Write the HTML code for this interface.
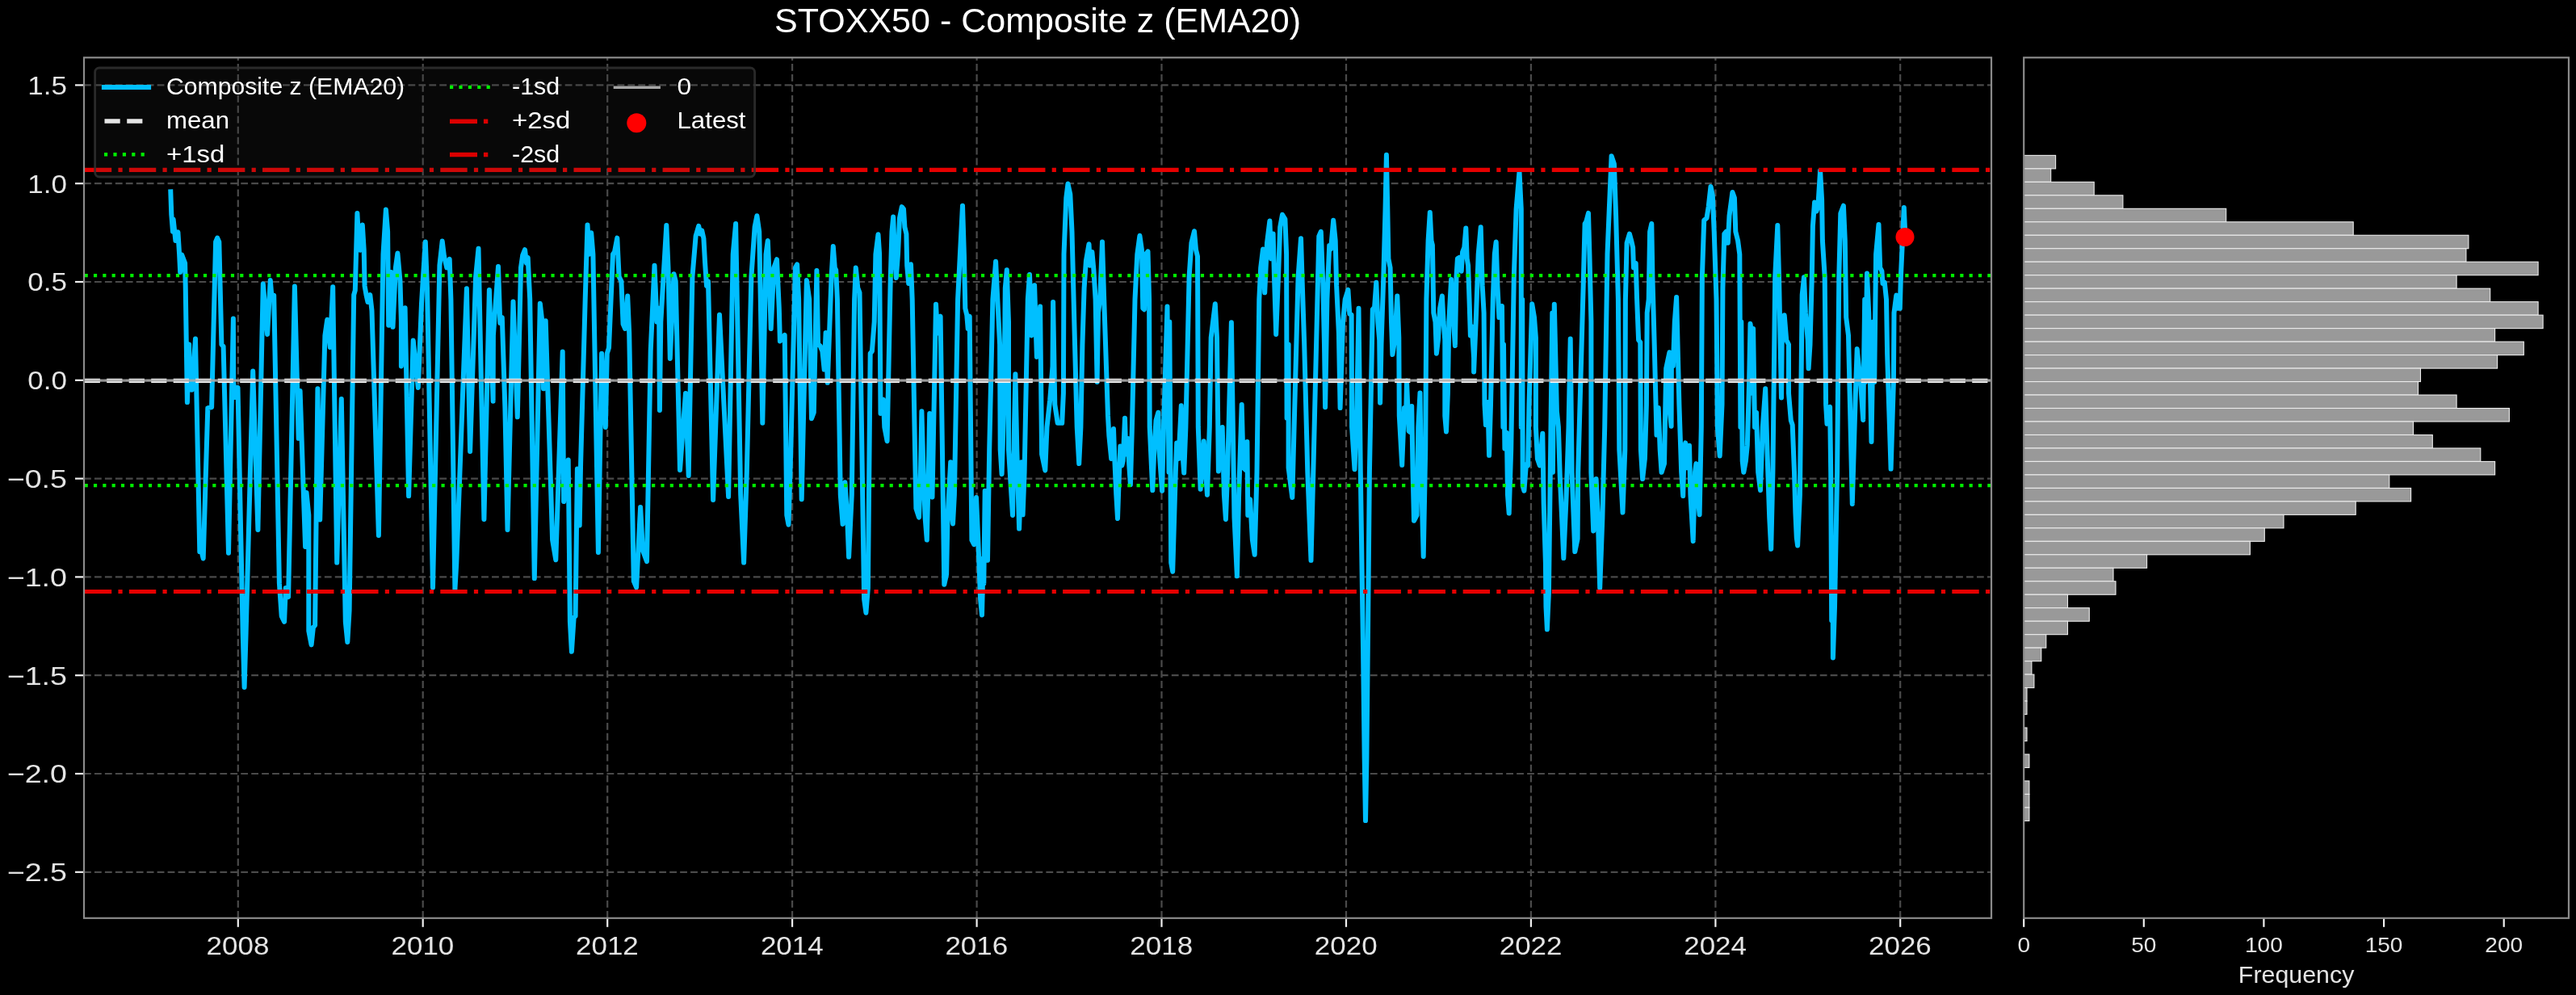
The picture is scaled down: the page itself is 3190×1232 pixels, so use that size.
<!DOCTYPE html><html><head><meta charset="utf-8"><title>STOXX50 - Composite z (EMA20)</title>
<style>html,body{margin:0;padding:0;background:#000;}body{width:3190px;height:1232px;overflow:hidden;font-family:"Liberation Sans",sans-serif;}svg{display:block;will-change:transform;}text{font-family:"Liberation Sans",sans-serif;-webkit-font-smoothing:antialiased;}</style></head><body>
<svg width="3190" height="1232" viewBox="0 0 3190 1232">
<rect x="0" y="0" width="3190" height="1232" fill="#000"/>
<defs><clipPath id="cm"><rect x="104.0" y="71.3" width="2362.0" height="1065.5"/></clipPath>
<clipPath id="ch"><rect x="2506.2" y="71.3" width="674.8" height="1065.5"/></clipPath></defs>
<g clip-path="url(#cm)">
<line x1="294.8" y1="1136.8" x2="294.8" y2="71.3" stroke="#4a4a4a" stroke-width="2.2" stroke-dasharray="8.8 4.15" fill="none"/>
<line x1="523.7" y1="1136.8" x2="523.7" y2="71.3" stroke="#4a4a4a" stroke-width="2.2" stroke-dasharray="8.8 4.15" fill="none"/>
<line x1="752.2" y1="1136.8" x2="752.2" y2="71.3" stroke="#4a4a4a" stroke-width="2.2" stroke-dasharray="8.8 4.15" fill="none"/>
<line x1="981.1" y1="1136.8" x2="981.1" y2="71.3" stroke="#4a4a4a" stroke-width="2.2" stroke-dasharray="8.8 4.15" fill="none"/>
<line x1="1209.6" y1="1136.8" x2="1209.6" y2="71.3" stroke="#4a4a4a" stroke-width="2.2" stroke-dasharray="8.8 4.15" fill="none"/>
<line x1="1438.5" y1="1136.8" x2="1438.5" y2="71.3" stroke="#4a4a4a" stroke-width="2.2" stroke-dasharray="8.8 4.15" fill="none"/>
<line x1="1667.0" y1="1136.8" x2="1667.0" y2="71.3" stroke="#4a4a4a" stroke-width="2.2" stroke-dasharray="8.8 4.15" fill="none"/>
<line x1="1895.9" y1="1136.8" x2="1895.9" y2="71.3" stroke="#4a4a4a" stroke-width="2.2" stroke-dasharray="8.8 4.15" fill="none"/>
<line x1="2124.4" y1="1136.8" x2="2124.4" y2="71.3" stroke="#4a4a4a" stroke-width="2.2" stroke-dasharray="8.8 4.15" fill="none"/>
<line x1="2353.2" y1="1136.8" x2="2353.2" y2="71.3" stroke="#4a4a4a" stroke-width="2.2" stroke-dasharray="8.8 4.15" fill="none"/>
<line x1="104.0" y1="105.4" x2="2466.0" y2="105.4" stroke="#4a4a4a" stroke-width="2.2" stroke-dasharray="8.8 4.15" fill="none"/>
<line x1="104.0" y1="227.2" x2="2466.0" y2="227.2" stroke="#4a4a4a" stroke-width="2.2" stroke-dasharray="8.8 4.15" fill="none"/>
<line x1="104.0" y1="349.0" x2="2466.0" y2="349.0" stroke="#4a4a4a" stroke-width="2.2" stroke-dasharray="8.8 4.15" fill="none"/>
<line x1="104.0" y1="470.8" x2="2466.0" y2="470.8" stroke="#4a4a4a" stroke-width="2.2" stroke-dasharray="8.8 4.15" fill="none"/>
<line x1="104.0" y1="592.6" x2="2466.0" y2="592.6" stroke="#4a4a4a" stroke-width="2.2" stroke-dasharray="8.8 4.15" fill="none"/>
<line x1="104.0" y1="714.4" x2="2466.0" y2="714.4" stroke="#4a4a4a" stroke-width="2.2" stroke-dasharray="8.8 4.15" fill="none"/>
<line x1="104.0" y1="836.2" x2="2466.0" y2="836.2" stroke="#4a4a4a" stroke-width="2.2" stroke-dasharray="8.8 4.15" fill="none"/>
<line x1="104.0" y1="958.0" x2="2466.0" y2="958.0" stroke="#4a4a4a" stroke-width="2.2" stroke-dasharray="8.8 4.15" fill="none"/>
<line x1="104.0" y1="1079.8" x2="2466.0" y2="1079.8" stroke="#4a4a4a" stroke-width="2.2" stroke-dasharray="8.8 4.15" fill="none"/>
<path d="M211.2 234.3 L212.3 265.8 L214.0 286.8 L214.6 271.4 L217.4 298.0 L220.4 287.4 L222.1 314.8 L223.2 337.1 L225.2 315.6 L229.1 325.9 L229.7 353.9 L231.9 498.1 L234.1 426.6 L235.0 480.8 L236.9 444.7 L237.5 482.7 L242.0 419.6 L247.3 683.1 L249.2 681.2 L251.7 691.5 L257.3 505.1 L262.1 504.3 L267.1 299.4 L269.1 294.6 L271.3 299.4 L274.4 426.6 L276.6 428.8 L283.0 684.8 L288.9 394.4 L289.2 474.3 L291.7 492.0 L294.5 479.9 L300.7 783.9 L302.6 850.9 L304.6 783.9 L313.2 459.5 L319.4 656.0 L325.8 351.6 L331.1 414.0 L334.8 346.9 L336.7 370.7 L339.2 365.6 L345.9 722.4 L348.7 762.9 L352.1 769.9 L353.8 728.0 L357.1 739.1 L364.9 354.4 L369.7 542.8 L371.6 484.1 L378.1 677.0 L379.5 609.9 L382.3 637.9 L382.3 781.1 L385.6 798.4 L387.9 776.9 L390.1 774.1 L393.4 481.3 L396.2 643.4 L402.4 415.4 L405.2 395.8 L408.8 429.9 L412.2 355.3 L417.2 696.6 L422.8 493.9 L427.8 769.9 L430.3 795.0 L432.6 755.9 L438.2 365.1 L439.8 359.5 L442.4 263.9 L444.6 306.4 L446.0 309.7 L448.8 278.4 L450.7 309.2 L451.6 353.9 L453.5 365.1 L455.5 374.0 L458.3 365.1 L460.5 384.6 L468.9 663.0 L474.5 314.8 L477.9 259.4 L480.1 286.8 L481.2 402.8 L484.3 337.1 L486.5 404.8 L489.9 331.5 L492.4 313.4 L495.5 348.3 L496.9 398.6 L496.9 453.4 L501.6 381.3 L506.1 614.1 L511.7 421.5 L517.8 479.9 L522.0 376.2 L524.0 342.7 L526.8 299.4 L529.0 356.7 L536.0 727.4 L544.4 328.7 L547.7 298.5 L550.0 317.5 L553.3 331.5 L556.7 320.9 L558.4 370.7 L563.4 730.2 L565.3 696.6 L577.9 357.2 L582.1 559.0 L589.1 342.7 L592.5 307.8 L599.4 642.9 L605.9 358.9 L610.6 496.7 L610.9 415.4 L617.0 330.1 L619.3 400.0 L621.8 393.0 L625.4 505.1 L628.5 656.0 L635.5 373.4 L640.8 516.3 L645.0 331.5 L647.2 316.1 L650.0 309.2 L652.0 325.9 L653.7 318.9 L656.2 370.7 L661.8 716.1 L668.8 375.7 L672.4 407.0 L673.0 481.3 L675.7 397.2 L684.1 668.6 L688.3 693.2 L696.7 435.5 L698.1 621.1 L703.7 569.4 L705.9 769.9 L707.9 806.8 L710.7 764.3 L712.6 762.9 L714.9 580.6 L717.7 650.4 L719.1 573.6 L724.7 370.7 L727.5 278.4 L729.7 314.8 L732.2 288.2 L734.4 314.8 L740.9 684.0 L745.1 437.7 L749.8 528.9 L751.8 437.7 L754.0 430.7 L759.0 314.8 L761.0 312.0 L764.3 294.6 L766.6 342.7 L769.4 348.3 L771.6 401.4 L774.1 407.0 L777.2 366.5 L779.2 412.6 L784.8 719.6 L788.1 727.4 L793.1 628.1 L795.9 681.2 L801.0 695.2 L805.7 434.9 L810.5 328.7 L813.5 398.6 L816.1 381.8 L816.9 507.9 L818.3 398.6 L825.3 279.0 L827.5 331.5 L829.8 443.9 L834.5 339.3 L836.7 348.3 L842.0 582.0 L849.0 486.9 L852.7 588.9 L857.4 342.7 L861.6 292.4 L865.2 279.8 L867.2 289.6 L869.2 285.4 L871.4 295.2 L873.1 325.9 L875.0 353.9 L877.0 348.3 L883.1 618.9 L891.0 389.7 L902.1 614.9 L907.7 314.8 L911.1 277.0 L917.2 612.7 L921.1 696.6 L924.8 584.8 L930.4 342.7 L934.6 281.2 L937.4 267.2 L940.2 286.8 L941.8 370.7 L944.3 523.8 L948.5 314.8 L950.8 298.0 L952.7 342.7 L954.7 407.0 L958.3 331.5 L962.0 321.2 L964.8 381.8 L965.9 422.4 L971.7 414.8 L974.3 637.9 L976.5 649.6 L979.3 556.8 L984.9 331.5 L987.1 327.3 L989.1 370.7 L992.7 618.3 L998.9 346.9 L1002.2 370.7 L1005.0 518.2 L1007.8 510.7 L1011.4 334.9 L1013.1 426.6 L1015.6 428.0 L1018.4 434.9 L1020.7 457.6 L1022.6 412.0 L1024.8 473.8 L1029.6 342.7 L1031.8 305.0 L1033.8 331.5 L1035.2 334.3 L1036.9 370.7 L1040.8 612.7 L1043.6 649.0 L1046.4 597.3 L1049.2 640.7 L1051.1 689.6 L1054.8 612.7 L1058.1 370.7 L1059.8 331.5 L1062.3 356.7 L1064.5 362.3 L1070.1 741.9 L1072.4 758.7 L1074.9 728.0 L1077.7 437.7 L1079.9 434.9 L1082.7 398.6 L1084.4 314.8 L1087.5 290.2 L1089.1 314.8 L1090.5 512.1 L1093.9 494.8 L1095.3 528.9 L1098.6 546.2 L1102.8 342.7 L1104.5 286.8 L1106.2 268.6 L1107.9 314.8 L1109.8 344.1 L1112.0 314.8 L1114.0 270.0 L1116.8 256.1 L1119.0 258.9 L1120.4 281.2 L1122.4 289.6 L1123.2 328.7 L1125.2 351.1 L1128.0 327.3 L1129.7 370.7 L1133.0 556.8 L1134.4 629.5 L1138.0 640.7 L1140.0 584.8 L1141.4 509.3 L1143.6 584.8 L1145.6 640.7 L1147.8 668.6 L1149.8 584.8 L1151.2 512.1 L1152.6 584.8 L1154.5 615.5 L1159.0 376.8 L1161.0 412.6 L1164.6 391.6 L1169.3 723.8 L1172.1 711.2 L1173.5 640.7 L1177.2 572.2 L1179.1 640.7 L1180.0 648.5 L1181.9 612.7 L1186.1 370.7 L1188.9 314.8 L1192.0 254.7 L1193.9 314.8 L1195.3 381.8 L1197.3 390.2 L1198.7 407.0 L1200.7 391.6 L1203.4 668.6 L1206.2 674.2 L1209.0 616.1 L1211.3 668.6 L1214.1 741.9 L1216.0 761.5 L1217.7 691.0 L1218.3 722.4 L1219.7 607.7 L1223.0 693.8 L1225.2 556.8 L1229.4 370.7 L1233.1 323.7 L1235.3 370.7 L1238.1 426.6 L1238.7 556.8 L1240.6 587.0 L1243.4 500.9 L1244.8 356.7 L1246.8 334.3 L1249.0 398.6 L1249.0 556.8 L1254.0 637.9 L1256.0 528.9 L1257.4 463.2 L1259.3 556.8 L1262.1 654.6 L1264.9 572.2 L1266.6 637.3 L1268.6 584.8 L1272.8 370.7 L1275.0 339.9 L1277.5 415.4 L1281.1 353.3 L1283.9 441.9 L1288.1 379.6 L1290.1 562.4 L1294.3 582.5 L1296.5 528.9 L1300.2 495.3 L1303.5 453.4 L1304.1 374.0 L1306.3 500.9 L1309.7 523.8 L1315.2 523.8 L1316.9 486.9 L1317.5 314.8 L1320.3 244.9 L1322.5 227.5 L1325.3 240.7 L1327.5 286.8 L1330.3 398.6 L1333.7 528.9 L1336.2 574.1 L1338.4 528.9 L1340.4 426.6 L1342.6 356.7 L1344.9 323.1 L1348.5 302.2 L1349.9 328.7 L1352.4 312.0 L1354.4 334.3 L1356.6 370.7 L1358.6 473.0 L1360.0 387.4 L1362.2 370.7 L1365.0 299.4 L1367.2 370.7 L1372.0 514.9 L1373.4 540.0 L1376.2 568.0 L1379.0 531.1 L1380.4 570.8 L1382.3 612.7 L1384.0 642.0 L1386.0 584.8 L1387.4 552.6 L1389.3 576.4 L1390.7 570.8 L1393.0 517.7 L1394.3 562.4 L1396.3 542.8 L1398.5 579.2 L1399.9 600.1 L1401.9 528.9 L1405.5 370.7 L1408.3 314.8 L1411.4 291.8 L1413.9 309.2 L1415.3 381.8 L1417.0 383.2 L1418.7 314.8 L1421.5 311.4 L1423.1 370.7 L1423.7 528.9 L1427.3 607.1 L1429.3 556.8 L1431.5 520.5 L1434.3 510.7 L1435.4 556.8 L1439.1 607.7 L1441.0 528.9 L1445.5 379.6 L1447.5 584.8 L1448.3 398.6 L1450.2 696.6 L1452.2 707.7 L1455.8 584.8 L1457.2 548.4 L1459.5 568.0 L1462.8 502.3 L1465.1 570.8 L1466.2 585.6 L1468.4 528.9 L1472.6 342.7 L1475.4 300.8 L1479.0 286.2 L1481.0 309.2 L1483.0 317.5 L1483.8 528.9 L1486.6 605.7 L1490.8 546.2 L1493.0 584.8 L1495.0 612.7 L1497.8 528.9 L1499.7 418.2 L1504.8 376.2 L1507.0 418.2 L1508.9 583.4 L1513.7 528.9 L1515.9 612.7 L1517.9 642.9 L1520.1 584.8 L1524.9 399.2 L1528.5 640.7 L1531.9 713.3 L1534.1 612.7 L1537.7 500.9 L1539.7 579.2 L1542.5 582.0 L1544.4 547.0 L1545.3 637.9 L1548.1 618.3 L1550.9 668.6 L1553.7 686.8 L1556.5 584.8 L1559.3 370.7 L1561.2 331.5 L1564.0 308.6 L1566.2 362.3 L1569.0 300.8 L1572.4 273.4 L1574.1 320.3 L1576.6 289.6 L1578.0 342.7 L1580.2 414.0 L1583.0 342.7 L1585.2 281.2 L1588.0 265.8 L1591.4 271.4 L1593.1 314.8 L1593.6 517.7 L1595.6 426.6 L1595.6 579.2 L1600.3 616.1 L1602.6 528.9 L1607.6 342.7 L1611.0 295.2 L1612.9 356.7 L1615.2 426.6 L1619.3 584.8 L1623.5 693.8 L1626.3 584.8 L1633.3 292.4 L1635.8 286.8 L1638.4 353.9 L1640.0 426.6 L1641.1 504.3 L1643.4 370.7 L1646.2 304.1 L1648.1 308.6 L1651.2 272.8 L1653.7 298.0 L1655.1 353.9 L1657.9 412.6 L1659.6 505.1 L1663.0 398.6 L1665.7 370.7 L1669.4 358.9 L1671.3 388.8 L1673.6 389.7 L1674.1 528.9 L1677.5 581.1 L1680.3 500.9 L1682.5 381.8 L1684.8 584.8 L1688.0 802.5 L1689.7 939.2 L1691.0 1016.1 L1692.4 939.2 L1693.8 802.5 L1695.9 584.8 L1699.8 383.2 L1702.1 380.4 L1704.3 349.7 L1706.3 398.6 L1708.2 421.0 L1709.1 498.7 L1710.5 426.6 L1713.3 342.7 L1715.5 258.9 L1716.9 191.8 L1718.3 258.9 L1719.4 320.3 L1721.6 331.5 L1723.0 398.6 L1724.4 439.1 L1727.2 421.0 L1730.3 366.5 L1732.3 418.2 L1732.8 514.9 L1736.2 575.8 L1739.0 505.1 L1741.2 514.9 L1742.0 471.6 L1744.6 533.9 L1746.2 535.0 L1748.2 502.9 L1749.6 584.8 L1751.0 644.8 L1754.6 637.9 L1756.3 528.9 L1758.5 486.4 L1759.9 584.8 L1762.7 689.0 L1765.2 556.8 L1766.4 370.7 L1768.6 298.0 L1770.8 263.0 L1772.5 298.0 L1773.9 303.6 L1775.3 387.4 L1777.5 398.6 L1778.9 437.7 L1780.9 421.0 L1783.1 381.8 L1785.9 366.5 L1787.6 398.6 L1789.3 421.0 L1789.3 514.9 L1791.0 534.4 L1792.9 486.9 L1794.3 398.6 L1797.1 346.1 L1799.9 398.6 L1801.9 428.0 L1803.5 342.7 L1804.9 320.3 L1806.9 318.9 L1809.7 335.7 L1811.1 312.0 L1813.3 306.4 L1815.3 282.6 L1816.7 320.3 L1818.1 328.7 L1819.5 370.7 L1820.9 415.4 L1822.8 404.2 L1825.1 443.3 L1825.1 460.4 L1827.9 393.0 L1830.7 314.8 L1833.7 281.2 L1835.7 353.9 L1837.6 387.4 L1838.5 500.9 L1839.9 526.1 L1842.4 498.1 L1844.1 563.8 L1846.0 500.9 L1848.8 370.7 L1850.8 314.8 L1852.7 299.4 L1854.4 353.9 L1856.4 393.0 L1860.0 379.0 L1861.4 528.9 L1862.0 426.6 L1863.4 555.4 L1865.9 535.8 L1867.0 612.7 L1868.7 635.6 L1871.2 556.8 L1874.8 342.7 L1877.6 258.9 L1881.5 212.7 L1883.8 258.9 L1883.8 528.9 L1885.2 370.7 L1885.7 601.5 L1887.4 607.7 L1889.9 575.0 L1892.1 576.4 L1893.5 500.9 L1897.2 376.2 L1900.0 393.0 L1901.9 418.2 L1901.9 528.9 L1903.9 568.0 L1906.7 576.4 L1910.3 536.7 L1911.7 623.9 L1913.9 696.6 L1914.5 751.3 L1915.9 779.3 L1917.9 734.2 L1922.3 387.4 L1922.9 584.8 L1924.8 376.8 L1927.9 509.3 L1929.9 528.9 L1931.8 590.3 L1934.1 640.7 L1936.3 691.0 L1939.7 612.7 L1942.5 528.9 L1944.7 419.6 L1946.6 584.8 L1950.3 683.1 L1953.6 667.2 L1954.2 584.8 L1960.6 356.7 L1962.6 277.0 L1964.3 274.2 L1967.0 263.9 L1968.4 314.8 L1970.4 398.6 L1970.4 584.8 L1973.2 657.4 L1976.6 593.1 L1978.8 640.7 L1981.2 728.0 L1984.4 640.7 L1987.2 528.9 L1990.5 314.8 L1992.8 258.9 L1995.6 193.2 L1998.9 203.0 L2001.1 267.2 L2003.9 370.7 L2005.3 556.8 L2009.5 634.5 L2012.3 556.8 L2012.9 370.7 L2014.6 300.8 L2017.9 289.6 L2020.2 298.0 L2022.1 306.4 L2023.0 331.5 L2025.7 325.9 L2027.1 370.7 L2029.1 421.0 L2031.3 423.8 L2031.9 556.8 L2034.1 593.1 L2036.9 568.0 L2038.9 500.9 L2039.7 387.4 L2041.7 370.7 L2043.1 286.8 L2045.3 277.0 L2046.4 342.7 L2048.7 426.6 L2051.5 538.6 L2053.7 505.1 L2055.7 556.8 L2057.6 584.8 L2061.0 574.1 L2063.2 456.2 L2067.4 436.3 L2067.4 505.1 L2069.6 527.7 L2069.9 444.7 L2071.9 453.4 L2073.8 398.6 L2076.1 367.9 L2079.4 500.9 L2082.2 584.8 L2084.2 614.1 L2085.6 556.8 L2087.2 548.4 L2089.2 579.2 L2092.0 551.8 L2093.4 612.7 L2096.7 670.0 L2099.0 584.8 L2100.4 574.1 L2102.3 612.7 L2104.6 637.3 L2106.8 528.9 L2107.9 342.7 L2110.2 272.8 L2113.5 270.0 L2115.7 256.1 L2118.5 230.9 L2120.8 242.1 L2122.7 286.8 L2125.5 370.7 L2126.9 528.9 L2129.7 564.6 L2132.5 500.9 L2133.4 356.7 L2135.3 289.6 L2137.5 286.8 L2139.8 300.8 L2141.5 267.2 L2145.4 237.9 L2147.9 244.9 L2149.3 286.8 L2152.1 298.0 L2154.3 314.8 L2155.4 528.9 L2156.3 398.6 L2157.7 570.8 L2159.3 584.8 L2161.9 570.8 L2163.8 551.2 L2166.1 473.0 L2167.5 400.8 L2169.4 415.4 L2170.2 486.9 L2171.1 407.0 L2173.0 528.9 L2175.0 510.7 L2177.2 584.8 L2180.0 607.1 L2182.8 528.9 L2186.2 481.3 L2188.4 556.8 L2191.2 640.7 L2193.2 679.8 L2195.4 584.8 L2198.2 342.7 L2201.3 279.0 L2203.0 342.7 L2206.0 492.5 L2206.6 426.6 L2209.7 390.2 L2212.2 421.0 L2215.0 426.6 L2215.0 486.9 L2217.8 520.5 L2219.7 526.1 L2222.0 584.8 L2223.4 635.1 L2224.8 665.8 L2226.1 675.6 L2228.9 612.7 L2231.7 365.1 L2234.0 343.3 L2235.9 387.4 L2238.7 421.0 L2239.6 456.2 L2241.5 426.6 L2243.8 342.7 L2244.9 279.8 L2247.1 250.5 L2249.3 261.6 L2251.3 256.1 L2254.1 211.3 L2256.1 247.7 L2256.9 298.0 L2259.7 342.7 L2261.1 500.9 L2262.5 524.7 L2266.1 503.7 L2267.2 584.8 L2268.2 768.3 L2269.5 696.6 L2269.9 814.5 L2272.0 751.3 L2275.1 584.8 L2277.3 342.7 L2279.3 264.4 L2282.9 254.7 L2284.8 298.0 L2286.2 393.0 L2289.0 415.4 L2293.8 623.9 L2297.4 500.9 L2299.7 432.1 L2304.4 478.5 L2307.2 519.9 L2309.2 370.7 L2310.0 473.0 L2312.0 338.5 L2314.2 387.4 L2317.5 547.0 L2319.8 398.6 L2321.2 473.0 L2323.1 314.8 L2326.5 277.9 L2328.2 331.5 L2330.4 335.7 L2331.5 351.1 L2333.8 349.7 L2336.0 370.7 L2337.1 437.7 L2341.6 580.6 L2344.9 473.0 L2345.5 387.4 L2348.3 365.6 L2350.5 381.8 L2352.8 381.8 L2353.9 342.7 L2356.3 290.0 L2357.8 257.0 L2359.4 293.2" fill="none" stroke="#00bfff" stroke-width="6.0" stroke-linejoin="round" stroke-linecap="butt"/>
<line x1="104.7" y1="471.4" x2="2466.0" y2="471.4" stroke="#ffffff" stroke-width="5.2" stroke-dasharray="19.2 8.3"/>
<line x1="104.6" y1="341.2" x2="2466.0" y2="341.2" stroke="#00ee00" stroke-width="4.2" stroke-dasharray="4.2 7.13"/>
<line x1="104.6" y1="601.2" x2="2466.0" y2="601.2" stroke="#00ee00" stroke-width="4.2" stroke-dasharray="4.2 7.13"/>
<line x1="104.8" y1="210.4" x2="2466.0" y2="210.4" stroke="#e60000" stroke-width="5.2" stroke-dasharray="33.4 8.23 5.2 8.23"/>
<line x1="104.8" y1="732.5" x2="2466.0" y2="732.5" stroke="#e60000" stroke-width="5.2" stroke-dasharray="33.4 8.23 5.2 8.23"/>
<line x1="104.0" y1="471.2" x2="2466.0" y2="471.2" stroke="#a8a8a8" stroke-opacity="0.85" stroke-width="3.3"/>
<circle cx="2359" cy="293.5" r="11.5" fill="#ff0000"/>
<rect x="117.6" y="84.0" width="817.0" height="135.0" rx="5.5" ry="5.5" fill="#3c3c3c" fill-opacity="0.14" stroke="#303030" stroke-opacity="0.85" stroke-width="2.8"/>
<line x1="125.9" y1="107.9" x2="187.1" y2="107.9" stroke="#00bfff" stroke-width="6.0"/>
<line x1="129.5" y1="150.0" x2="176.4" y2="150.0" stroke="#e6e6e6" stroke-width="5.4" stroke-dasharray="19.2 8.5"/>
<line x1="129.0" y1="191.2" x2="178.8" y2="191.2" stroke="#00f000" stroke-width="4.4" stroke-dasharray="4.2 7.2"/>
<text x="206.0" y="117.0" font-size="29.00" fill="#fff" text-anchor="start" textLength="295.0" lengthAdjust="spacingAndGlyphs" >Composite z (EMA20)</text>
<text x="206.0" y="158.7" font-size="29.00" fill="#fff" text-anchor="start" textLength="78.0" lengthAdjust="spacingAndGlyphs" >mean</text>
<text x="206.0" y="200.6" font-size="29.00" fill="#fff" text-anchor="start" textLength="72.3" lengthAdjust="spacingAndGlyphs" >+1sd</text>
<line x1="557.0" y1="107.9" x2="606.9" y2="107.9" stroke="#00f000" stroke-width="4.4" stroke-dasharray="4.2 7.2"/>
<line x1="557.0" y1="150.3" x2="612" y2="150.3" stroke="#dc0000" stroke-width="5.4" stroke-dasharray="34 7.9 5.4 20"/>
<line x1="557.0" y1="191.5" x2="612" y2="191.5" stroke="#dc0000" stroke-width="5.4" stroke-dasharray="34 7.9 5.4 20"/>
<text x="634.0" y="117.0" font-size="29.00" fill="#fff" text-anchor="start" textLength="59.2" lengthAdjust="spacingAndGlyphs" >-1sd</text>
<text x="634.0" y="158.7" font-size="29.00" fill="#fff" text-anchor="start" textLength="72.3" lengthAdjust="spacingAndGlyphs" >+2sd</text>
<text x="634.0" y="200.6" font-size="29.00" fill="#fff" text-anchor="start" textLength="59.2" lengthAdjust="spacingAndGlyphs" >-2sd</text>
<line x1="759.7" y1="108.3" x2="817.9" y2="108.3" stroke="#a6a6a6" stroke-width="3.5"/>
<circle cx="788.3" cy="152.3" r="12" fill="#ff0000"/>
<text x="838.5" y="117.0" font-size="29.00" fill="#fff" text-anchor="start" textLength="17.6" lengthAdjust="spacingAndGlyphs" >0</text>
<text x="838.5" y="158.7" font-size="29.00" fill="#fff" text-anchor="start" textLength="85.0" lengthAdjust="spacingAndGlyphs" >Latest</text>
</g>
<rect x="104.0" y="71.3" width="2362.0" height="1065.5" fill="none" stroke="#8a8a8a" stroke-width="2.2"/>
<line x1="294.8" y1="1137.8" x2="294.8" y2="1147.8" stroke="#f0f0f0" stroke-width="2.2"/>
<text x="294.5" y="1182.0" font-size="31.40" fill="#e4e4e4" text-anchor="middle" textLength="77.8" lengthAdjust="spacingAndGlyphs" >2008</text>
<line x1="523.7" y1="1137.8" x2="523.7" y2="1147.8" stroke="#f0f0f0" stroke-width="2.2"/>
<text x="523.4" y="1182.0" font-size="31.40" fill="#e4e4e4" text-anchor="middle" textLength="77.8" lengthAdjust="spacingAndGlyphs" >2010</text>
<line x1="752.2" y1="1137.8" x2="752.2" y2="1147.8" stroke="#f0f0f0" stroke-width="2.2"/>
<text x="751.9" y="1182.0" font-size="31.40" fill="#e4e4e4" text-anchor="middle" textLength="77.8" lengthAdjust="spacingAndGlyphs" >2012</text>
<line x1="981.1" y1="1137.8" x2="981.1" y2="1147.8" stroke="#f0f0f0" stroke-width="2.2"/>
<text x="980.8" y="1182.0" font-size="31.40" fill="#e4e4e4" text-anchor="middle" textLength="77.8" lengthAdjust="spacingAndGlyphs" >2014</text>
<line x1="1209.6" y1="1137.8" x2="1209.6" y2="1147.8" stroke="#f0f0f0" stroke-width="2.2"/>
<text x="1209.3" y="1182.0" font-size="31.40" fill="#e4e4e4" text-anchor="middle" textLength="77.8" lengthAdjust="spacingAndGlyphs" >2016</text>
<line x1="1438.5" y1="1137.8" x2="1438.5" y2="1147.8" stroke="#f0f0f0" stroke-width="2.2"/>
<text x="1438.2" y="1182.0" font-size="31.40" fill="#e4e4e4" text-anchor="middle" textLength="77.8" lengthAdjust="spacingAndGlyphs" >2018</text>
<line x1="1667.0" y1="1137.8" x2="1667.0" y2="1147.8" stroke="#f0f0f0" stroke-width="2.2"/>
<text x="1666.7" y="1182.0" font-size="31.40" fill="#e4e4e4" text-anchor="middle" textLength="77.8" lengthAdjust="spacingAndGlyphs" >2020</text>
<line x1="1895.9" y1="1137.8" x2="1895.9" y2="1147.8" stroke="#f0f0f0" stroke-width="2.2"/>
<text x="1895.6" y="1182.0" font-size="31.40" fill="#e4e4e4" text-anchor="middle" textLength="77.8" lengthAdjust="spacingAndGlyphs" >2022</text>
<line x1="2124.4" y1="1137.8" x2="2124.4" y2="1147.8" stroke="#f0f0f0" stroke-width="2.2"/>
<text x="2124.1" y="1182.0" font-size="31.40" fill="#e4e4e4" text-anchor="middle" textLength="77.8" lengthAdjust="spacingAndGlyphs" >2024</text>
<line x1="2353.2" y1="1137.8" x2="2353.2" y2="1147.8" stroke="#f0f0f0" stroke-width="2.2"/>
<text x="2352.9" y="1182.0" font-size="31.40" fill="#e4e4e4" text-anchor="middle" textLength="77.8" lengthAdjust="spacingAndGlyphs" >2026</text>
<line x1="93.0" y1="105.4" x2="103.0" y2="105.4" stroke="#f0f0f0" stroke-width="2.2"/>
<text x="82.9" y="116.7" font-size="31.40" fill="#e4e4e4" text-anchor="end" textLength="48.6" lengthAdjust="spacingAndGlyphs" >1.5</text>
<line x1="93.0" y1="227.2" x2="103.0" y2="227.2" stroke="#f0f0f0" stroke-width="2.2"/>
<text x="82.9" y="238.5" font-size="31.40" fill="#e4e4e4" text-anchor="end" textLength="48.6" lengthAdjust="spacingAndGlyphs" >1.0</text>
<line x1="93.0" y1="349.0" x2="103.0" y2="349.0" stroke="#f0f0f0" stroke-width="2.2"/>
<text x="82.9" y="360.3" font-size="31.40" fill="#e4e4e4" text-anchor="end" textLength="48.6" lengthAdjust="spacingAndGlyphs" >0.5</text>
<line x1="93.0" y1="470.8" x2="103.0" y2="470.8" stroke="#f0f0f0" stroke-width="2.2"/>
<text x="82.9" y="482.1" font-size="31.40" fill="#e4e4e4" text-anchor="end" textLength="48.6" lengthAdjust="spacingAndGlyphs" >0.0</text>
<line x1="93.0" y1="592.6" x2="103.0" y2="592.6" stroke="#f0f0f0" stroke-width="2.2"/>
<text x="82.9" y="603.9" font-size="31.40" fill="#e4e4e4" text-anchor="end" textLength="74.2" lengthAdjust="spacingAndGlyphs" >−0.5</text>
<line x1="93.0" y1="714.4" x2="103.0" y2="714.4" stroke="#f0f0f0" stroke-width="2.2"/>
<text x="82.9" y="725.7" font-size="31.40" fill="#e4e4e4" text-anchor="end" textLength="74.2" lengthAdjust="spacingAndGlyphs" >−1.0</text>
<line x1="93.0" y1="836.2" x2="103.0" y2="836.2" stroke="#f0f0f0" stroke-width="2.2"/>
<text x="82.9" y="847.5" font-size="31.40" fill="#e4e4e4" text-anchor="end" textLength="74.2" lengthAdjust="spacingAndGlyphs" >−1.5</text>
<line x1="93.0" y1="958.0" x2="103.0" y2="958.0" stroke="#f0f0f0" stroke-width="2.2"/>
<text x="82.9" y="969.3" font-size="31.40" fill="#e4e4e4" text-anchor="end" textLength="74.2" lengthAdjust="spacingAndGlyphs" >−2.0</text>
<line x1="93.0" y1="1079.8" x2="103.0" y2="1079.8" stroke="#f0f0f0" stroke-width="2.2"/>
<text x="82.9" y="1091.1" font-size="31.40" fill="#e4e4e4" text-anchor="end" textLength="74.2" lengthAdjust="spacingAndGlyphs" >−2.5</text>
<g clip-path="url(#ch)">
<rect x="2506.2" y="192.40" width="39.4" height="16.48" fill="#999999" stroke="#ececec" stroke-width="1.1"/>
<rect x="2506.2" y="208.88" width="33.5" height="16.48" fill="#999999" stroke="#ececec" stroke-width="1.1"/>
<rect x="2506.2" y="225.36" width="87.0" height="16.48" fill="#999999" stroke="#ececec" stroke-width="1.1"/>
<rect x="2506.2" y="241.84" width="122.7" height="16.48" fill="#999999" stroke="#ececec" stroke-width="1.1"/>
<rect x="2506.2" y="258.32" width="250.5" height="16.48" fill="#999999" stroke="#ececec" stroke-width="1.1"/>
<rect x="2506.2" y="274.80" width="408.0" height="16.48" fill="#999999" stroke="#ececec" stroke-width="1.1"/>
<rect x="2506.2" y="291.28" width="550.7" height="16.48" fill="#999999" stroke="#ececec" stroke-width="1.1"/>
<rect x="2506.2" y="307.76" width="547.7" height="16.48" fill="#999999" stroke="#ececec" stroke-width="1.1"/>
<rect x="2506.2" y="324.24" width="636.9" height="16.48" fill="#999999" stroke="#ececec" stroke-width="1.1"/>
<rect x="2506.2" y="340.72" width="535.9" height="16.48" fill="#999999" stroke="#ececec" stroke-width="1.1"/>
<rect x="2506.2" y="357.20" width="577.5" height="16.48" fill="#999999" stroke="#ececec" stroke-width="1.1"/>
<rect x="2506.2" y="373.68" width="636.9" height="16.48" fill="#999999" stroke="#ececec" stroke-width="1.1"/>
<rect x="2506.2" y="390.16" width="642.9" height="16.48" fill="#999999" stroke="#ececec" stroke-width="1.1"/>
<rect x="2506.2" y="406.64" width="583.4" height="16.48" fill="#999999" stroke="#ececec" stroke-width="1.1"/>
<rect x="2506.2" y="423.12" width="619.1" height="16.48" fill="#999999" stroke="#ececec" stroke-width="1.1"/>
<rect x="2506.2" y="439.60" width="586.4" height="16.48" fill="#999999" stroke="#ececec" stroke-width="1.1"/>
<rect x="2506.2" y="456.08" width="491.3" height="16.48" fill="#999999" stroke="#ececec" stroke-width="1.1"/>
<rect x="2506.2" y="472.56" width="488.3" height="16.48" fill="#999999" stroke="#ececec" stroke-width="1.1"/>
<rect x="2506.2" y="489.04" width="535.9" height="16.48" fill="#999999" stroke="#ececec" stroke-width="1.1"/>
<rect x="2506.2" y="505.52" width="601.2" height="16.48" fill="#999999" stroke="#ececec" stroke-width="1.1"/>
<rect x="2506.2" y="522.00" width="482.3" height="16.48" fill="#999999" stroke="#ececec" stroke-width="1.1"/>
<rect x="2506.2" y="538.48" width="506.1" height="16.48" fill="#999999" stroke="#ececec" stroke-width="1.1"/>
<rect x="2506.2" y="554.96" width="565.6" height="16.48" fill="#999999" stroke="#ececec" stroke-width="1.1"/>
<rect x="2506.2" y="571.44" width="583.4" height="16.48" fill="#999999" stroke="#ececec" stroke-width="1.1"/>
<rect x="2506.2" y="587.92" width="452.6" height="16.48" fill="#999999" stroke="#ececec" stroke-width="1.1"/>
<rect x="2506.2" y="604.40" width="479.4" height="16.48" fill="#999999" stroke="#ececec" stroke-width="1.1"/>
<rect x="2506.2" y="620.88" width="411.0" height="16.48" fill="#999999" stroke="#ececec" stroke-width="1.1"/>
<rect x="2506.2" y="637.36" width="321.8" height="16.48" fill="#999999" stroke="#ececec" stroke-width="1.1"/>
<rect x="2506.2" y="653.84" width="298.1" height="16.48" fill="#999999" stroke="#ececec" stroke-width="1.1"/>
<rect x="2506.2" y="670.32" width="280.2" height="16.48" fill="#999999" stroke="#ececec" stroke-width="1.1"/>
<rect x="2506.2" y="686.80" width="152.4" height="16.48" fill="#999999" stroke="#ececec" stroke-width="1.1"/>
<rect x="2506.2" y="703.28" width="110.8" height="16.48" fill="#999999" stroke="#ececec" stroke-width="1.1"/>
<rect x="2506.2" y="719.76" width="113.8" height="16.48" fill="#999999" stroke="#ececec" stroke-width="1.1"/>
<rect x="2506.2" y="736.24" width="54.3" height="16.48" fill="#999999" stroke="#ececec" stroke-width="1.1"/>
<rect x="2506.2" y="752.72" width="81.1" height="16.48" fill="#999999" stroke="#ececec" stroke-width="1.1"/>
<rect x="2506.2" y="769.20" width="54.3" height="16.48" fill="#999999" stroke="#ececec" stroke-width="1.1"/>
<rect x="2506.2" y="785.68" width="27.6" height="16.48" fill="#999999" stroke="#ececec" stroke-width="1.1"/>
<rect x="2506.2" y="802.16" width="21.6" height="16.48" fill="#999999" stroke="#ececec" stroke-width="1.1"/>
<rect x="2506.2" y="818.64" width="9.7" height="16.48" fill="#999999" stroke="#ececec" stroke-width="1.1"/>
<rect x="2506.2" y="835.12" width="12.7" height="16.48" fill="#999999" stroke="#ececec" stroke-width="1.1"/>
<rect x="2506.2" y="851.60" width="3.8" height="16.48" fill="#999999" stroke="#ececec" stroke-width="1.1"/>
<rect x="2506.2" y="868.08" width="3.8" height="16.48" fill="#999999" stroke="#ececec" stroke-width="1.1"/>
<rect x="2506.2" y="901.04" width="3.8" height="16.48" fill="#999999" stroke="#ececec" stroke-width="1.1"/>
<rect x="2506.2" y="934.00" width="6.7" height="16.48" fill="#999999" stroke="#ececec" stroke-width="1.1"/>
<rect x="2506.2" y="966.96" width="6.7" height="16.48" fill="#999999" stroke="#ececec" stroke-width="1.1"/>
<rect x="2506.2" y="983.44" width="6.7" height="16.48" fill="#999999" stroke="#ececec" stroke-width="1.1"/>
<rect x="2506.2" y="999.92" width="6.7" height="16.48" fill="#999999" stroke="#ececec" stroke-width="1.1"/>
</g>
<rect x="2506.2" y="71.3" width="674.8" height="1065.5" fill="none" stroke="#8a8a8a" stroke-width="2.2"/>
<line x1="2506.2" y1="1137.8" x2="2506.2" y2="1147.8" stroke="#f0f0f0" stroke-width="2.2"/>
<text x="2506.2" y="1178.6" font-size="25.30" fill="#e4e4e4" text-anchor="middle" textLength="15.6" lengthAdjust="spacingAndGlyphs" >0</text>
<line x1="2654.8" y1="1137.8" x2="2654.8" y2="1147.8" stroke="#f0f0f0" stroke-width="2.2"/>
<text x="2654.8" y="1178.6" font-size="25.30" fill="#e4e4e4" text-anchor="middle" textLength="31.1" lengthAdjust="spacingAndGlyphs" >50</text>
<line x1="2803.4" y1="1137.8" x2="2803.4" y2="1147.8" stroke="#f0f0f0" stroke-width="2.2"/>
<text x="2803.4" y="1178.6" font-size="25.30" fill="#e4e4e4" text-anchor="middle" textLength="46.7" lengthAdjust="spacingAndGlyphs" >100</text>
<line x1="2952.1" y1="1137.8" x2="2952.1" y2="1147.8" stroke="#f0f0f0" stroke-width="2.2"/>
<text x="2952.1" y="1178.6" font-size="25.30" fill="#e4e4e4" text-anchor="middle" textLength="46.7" lengthAdjust="spacingAndGlyphs" >150</text>
<line x1="3100.7" y1="1137.8" x2="3100.7" y2="1147.8" stroke="#f0f0f0" stroke-width="2.2"/>
<text x="3100.7" y="1178.6" font-size="25.30" fill="#e4e4e4" text-anchor="middle" textLength="46.7" lengthAdjust="spacingAndGlyphs" >200</text>
<text x="2843.6" y="1217.2" font-size="29.00" fill="#e4e4e4" text-anchor="middle" textLength="143.5" lengthAdjust="spacingAndGlyphs" >Frequency</text>
<text x="1285.0" y="40.0" font-size="42.00" fill="#ffffff" text-anchor="middle" textLength="652.0" lengthAdjust="spacingAndGlyphs" >STOXX50 - Composite z (EMA20)</text>
</svg></body></html>
